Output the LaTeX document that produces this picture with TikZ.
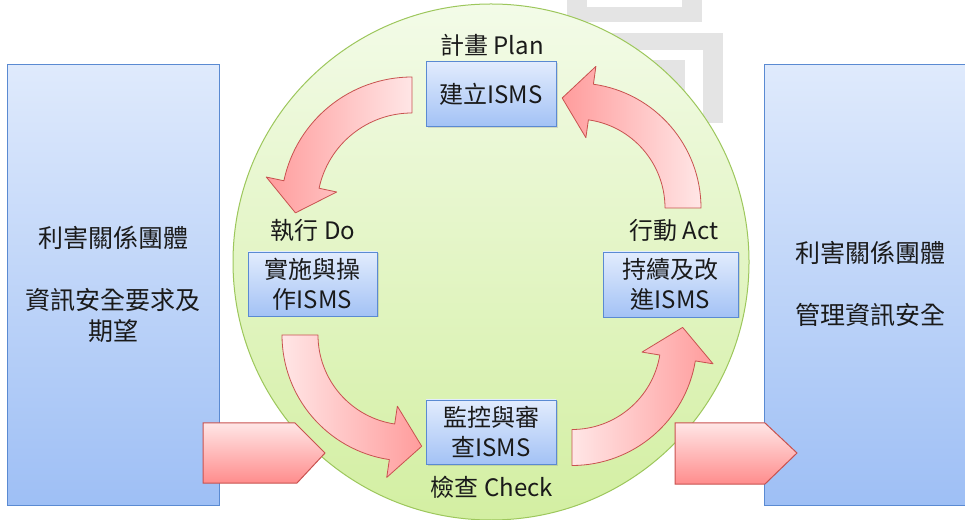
\documentclass[tikz,border=0pt]{standalone}
\usepackage{fontspec}
\setmainfont{Noto Sans CJK TC}
\usetikzlibrary{calc,shadows}
\definecolor{wm}{HTML}{E4E4E4}
\definecolor{sidetop}{HTML}{DFEAFC}
\definecolor{sidebot}{HTML}{9EBFF5}
\definecolor{boxborder}{HTML}{5A8AD2}
\definecolor{boxtop}{HTML}{E2ECFD}
\definecolor{boxbot}{HTML}{A3C2F5}
\definecolor{circtop}{HTML}{F3FBE8}
\definecolor{circbot}{HTML}{D3EFA2}
\definecolor{circborder}{HTML}{9DC75C}
\definecolor{arrlight}{HTML}{FFE6E6}
\definecolor{arrdark}{HTML}{FF9C9C}
\definecolor{arrborder}{HTML}{C8524F}
\definecolor{txt}{HTML}{1A1A1A}
\newcommand\cyclearrow[8]{%
  \path[cyc,#8] ($(#1)+(#2:#4)$) arc[start angle=#2,end angle=#3,radius=#4pt]
   -- ($(#1)+(#3:{(#4+#5)/2+#6})$)
   -- ($(#1)+(#3:{(#4+#5)/2})+({#3+90}:#7)$)
   -- ($(#1)+(#3:{(#4+#5)/2-#6})$)
   -- ($(#1)+(#3:#5)$) arc[start angle=#3,end angle=#2,radius=#5pt] -- cycle;}
\tikzset{
  sidebox/.style={draw=boxborder, line width=1pt, top color=sidetop, bottom color=sidebot},
  sidetext/.style={text=txt, align=center, font=\fontsize{25}{31}\selectfont, inner sep=0pt},
  bluebox/.style={draw=boxborder, line width=0.9pt, top color=boxtop, bottom color=boxbot,
    minimum width=130pt, minimum height=65pt, inner sep=0pt, align=center, text=txt,
    font=\fontsize{24}{30}\selectfont,
    drop shadow={opacity=0.25, shadow xshift=1.5pt, shadow yshift=-1.5pt}},
  phase/.style={text=txt, font=\fontsize{24}{28}\selectfont, inner sep=0pt},
  cyc/.style={draw=arrborder, line width=0.8pt, line join=round},
  blockarrow/.style={draw=arrborder, line width=1pt, top color=arrlight, bottom color=arrdark!90!red},
  wmark/.style={fill=wm, draw=none}
}
\begin{document}
\begin{tikzpicture}[x=1pt,y=1pt]
\clip (0,0) rectangle (965,519);
\fill[white] (0,0) rectangle (965,519);
% watermark
\fill[wmark] (567,519) rectangle (702,497);
\fill[white] (587,519) rectangle (682,512);
\fill[wmark] (567,486) rectangle (723,469);
\fill[wmark] (703,486) rectangle (723,396);
\fill[wmark] (600,459) rectangle (685,380);
% side boxes
\path[sidebox] (7,454) rectangle (219,14);
\path[sidebox] (764,454) rectangle (976,14);
\node[sidetext] (lefttext) at (113,235) {利害關係團體\\[31pt]資訊安全要求及\\期望};
\node[sidetext] (righttext) at (870,235) {利害關係團體\\[31pt]管理資訊安全};
% circle
\node[circle, draw=circborder, line width=1pt, top color=circtop, bottom color=circbot,
  minimum size=516pt, inner sep=0pt] (cyclecircle) at (491,257) {};
% curved arrows
\coordinate (c1) at (412,311);
\coordinate (c2) at (576,311);
\coordinate (c3) at (408,184);
\coordinate (c4) at (572,178.5);
\cyclearrow{c1}{90}{168}{131}{95}{36}{29}{left color=arrdark, right color=arrlight}
\cyclearrow{c2}{0}{82}{125}{89}{36}{29}{left color=arrdark, right color=arrlight}
\cyclearrow{c3}{180}{261.5}{126}{90}{36}{30}{left color=arrlight, right color=arrdark}
\cyclearrow{c4}{270}{350.6}{125}{89}{36}{31}{left color=arrlight, right color=arrdark}
% boxes
\node[bluebox] (plan) at (491,425) {建立ISMS};
\node[bluebox, minimum width=129pt, minimum height=64pt] (do) at (312.5,235) {實施與操\\作ISMS};
\node[bluebox, minimum width=135pt] (act) at (670.5,234.5) {持續及改\\進ISMS};
\node[bluebox, minimum height=64pt] (check) at (491,87) {監控與審\\查ISMS};
% phase labels
\node[phase] (planlbl) at (492,474) {計畫 Plan};
\node[phase] (dolbl) at (313,289) {執行 Do};
\node[phase] (actlbl) at (674,289) {行動 Act};
\node[phase] (checklbl) at (492,32) {檢查 Check};
% block arrows
\path[blockarrow] (203,96) -- (295,96) -- (325,66) -- (297,36) -- (203,36) -- cycle;
\path[blockarrow] (675,96) -- (765,96) -- (797,66) -- (765,35) -- (675,35) -- cycle;
\end{tikzpicture}
\end{document}
